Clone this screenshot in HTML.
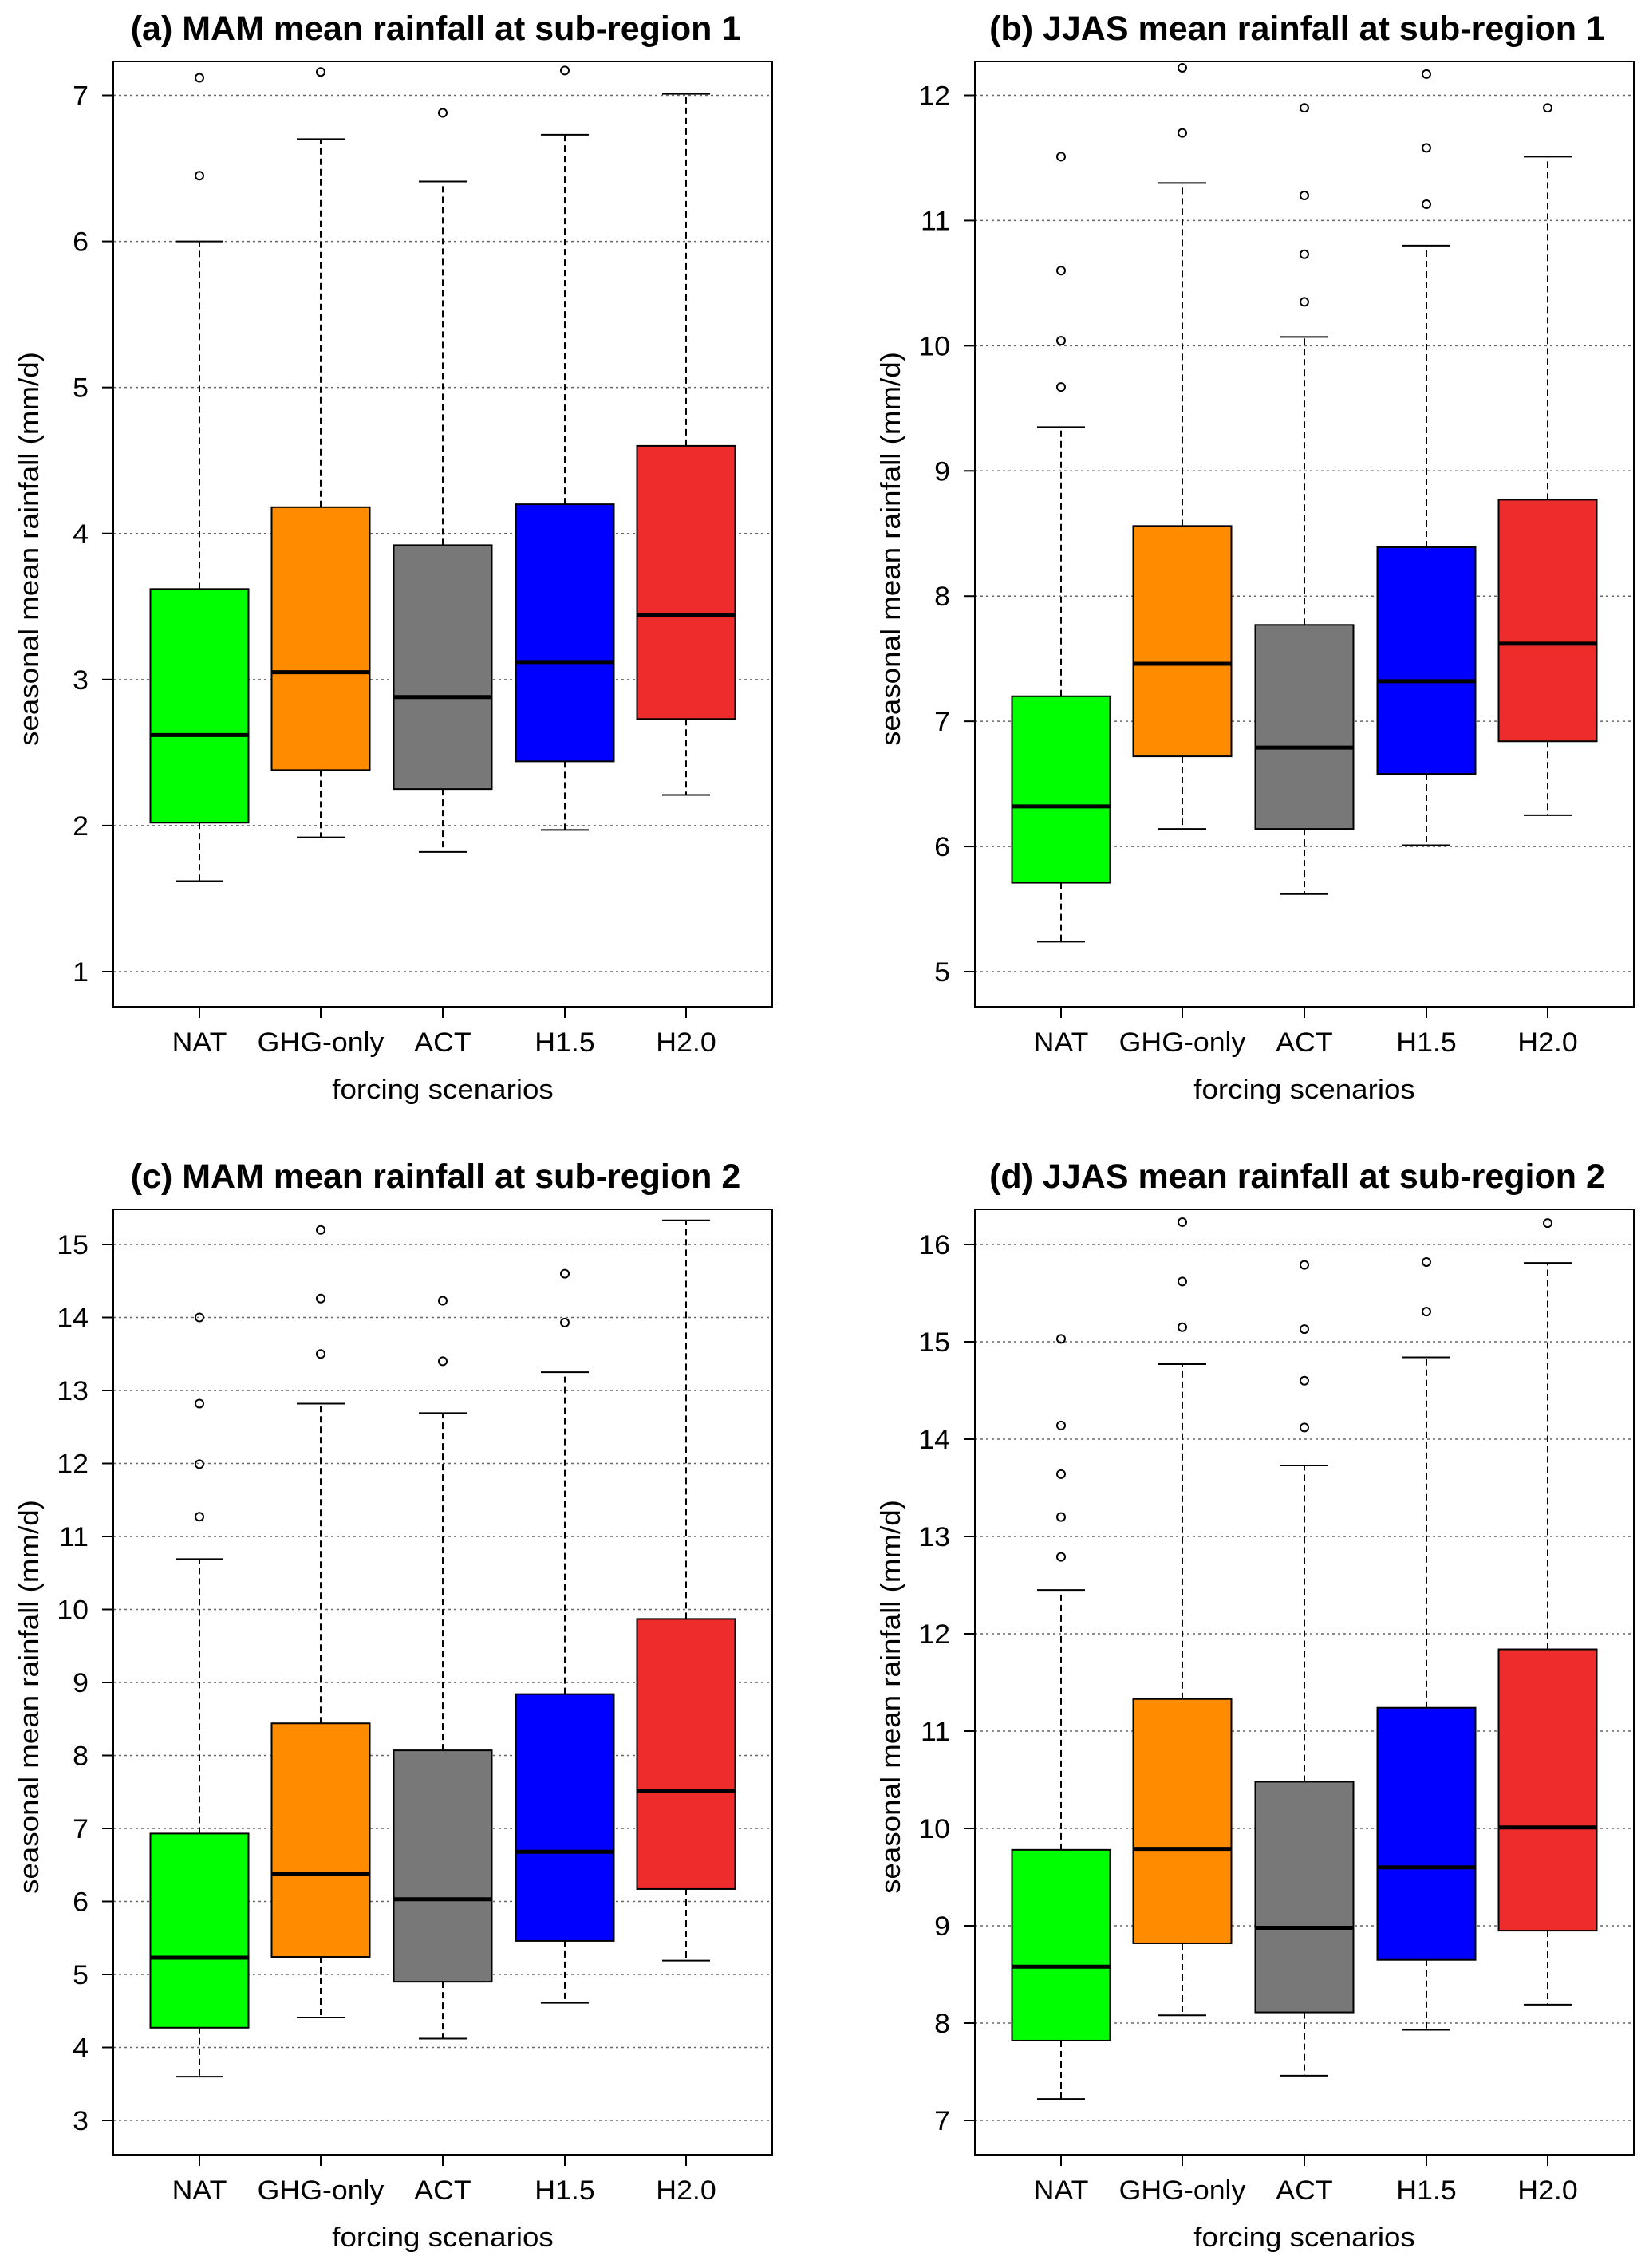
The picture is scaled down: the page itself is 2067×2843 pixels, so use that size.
<!DOCTYPE html>
<html><head><meta charset="utf-8"><style>
html,body{margin:0;padding:0;background:#fff}
svg{display:block}
text{font-family:"Liberation Sans",sans-serif;fill:#000}
</style></head><body>
<svg id="fig" width="2067" height="2843" viewBox="0 0 2067 2843" xmlns="http://www.w3.org/2000/svg"></svg>
<script>
const categories = ["NAT","GHG-only","ACT","H1.5","H2.0"];
const colors = ["#00ff00","#ff8c00","#787878","#0000ff","#ee2c2c"];
const titles = ["(a)  MAM mean rainfall at sub-region 1","(b)  JJAS mean rainfall at sub-region 1","(c)  MAM mean rainfall at sub-region 2","(d)  JJAS mean rainfall at sub-region 2"];
// [lowerWhisker, q1, median, q3, upperWhisker]
const statsA = [[1.62,2.02,2.62,3.62,6.0],[1.92,2.38,3.05,4.18,6.7],[1.82,2.25,2.88,3.92,6.41],[1.97,2.44,3.12,4.2,6.73],[2.21,2.73,3.44,4.6,7.01]];
const outA = [[6.45,7.12],[7.16],[6.88],[7.17],[]];
const statsB = [[5.24,5.71,6.32,7.2,9.35],[6.14,6.72,7.46,8.56,11.3],[5.62,6.14,6.79,7.77,10.07],[6.01,6.58,7.32,8.39,10.8],[6.25,6.84,7.62,8.77,11.51]];
const outB = [[9.67,10.04,10.6,11.51],[11.7,12.22],[10.35,10.73,11.2,11.9],[11.13,11.58,12.17],[11.9]];
const statsC = [[3.6,4.27,5.23,6.93,10.69],[4.41,5.24,6.38,8.44,12.82],[4.12,4.9,6.03,8.07,12.69],[4.61,5.46,6.68,8.84,13.25],[5.19,6.17,7.51,9.87,15.33]];
const outC = [[11.27,11.99,12.82,14.0],[13.5,14.26,15.2],[13.4,14.23],[13.93,14.6],[]];
const statsD = [[7.22,7.82,8.58,9.78,12.45],[8.08,8.82,9.79,11.33,14.77],[7.46,8.11,8.98,10.48,13.73],[7.93,8.65,9.6,11.24,14.84],[8.19,8.95,10.01,11.84,15.81]];
const outD = [[12.79,13.2,13.64,14.14,15.03],[15.15,15.62,16.23],[14.12,14.6,15.13,15.79],[15.31,15.82],[16.22]];
const ticksA = [1,2,3,4,5,6,7];
const ticksB = [5,6,7,8,9,10,11,12];
const ticksC = [3,4,5,6,7,8,9,10,11,12,13,14,15];
const ticksD = [7,8,9,10,11,12,13,14,15,16];

const NS="http://www.w3.org/2000/svg";
const svg=document.getElementById('fig');
function mk(tag,attrs,parent){const e=document.createElementNS(NS,tag);for(const k in attrs)e.setAttribute(k,attrs[k]);parent.appendChild(e);return e;}
function txt(parent,x,y,s,size,anchor,sx,weight,rot){
  const t=mk('text',{'font-size':size,'text-anchor':anchor,'font-weight':weight||'normal',transform:`translate(${x},${y})${rot?' rotate(-90)':''} scale(${sx},1)`},parent);
  t.textContent=s;return t;}

const panels=[
 {ox:0,oy:0,stats:statsA,outs:outA,ticks:ticksA,tv:[7,1],tp:[119.5,1218]},
 {ox:1080,oy:0,stats:statsB,outs:outB,ticks:ticksB,tv:[12,5],tp:[119.5,1218]},
 {ox:0,oy:1439,stats:statsC,outs:outC,ticks:ticksC,tv:[15,3],tp:[121,1219]},
 {ox:1080,oy:1439,stats:statsD,outs:outD,ticks:ticksD,tv:[16,7],tp:[121,1219]}
];
const L=142,R=968,T=77,B=1262;
const xc=[250,402,555,708,860];
panels.forEach((p,pi)=>{
  const g=mk('g',{transform:`translate(${p.ox},${p.oy})`},svg);
  
  
  const y=v=>p.tp[0]+(p.tv[0]-v)*(p.tp[1]-p.tp[0])/(p.tv[0]-p.tv[1]);
  const tt=txt(g,546,50,titles[pi],43,'middle',1,'bold');
  
  
  p.ticks.forEach(v=>{
    const gl=mk('line',{x1:L,x2:R,y1:y(v),y2:y(v),stroke:'#666','stroke-width':1.5,'stroke-dasharray':'3,4'},g);
    
    
    mk('line',{x1:L-14,x2:L,y1:y(v),y2:y(v),stroke:'#000','stroke-width':2},g);
    const tl=txt(g,111,y(v)+12,String(v),34,'end',1.05);
    
    
  });
  p.stats.forEach((s,i)=>{
    const cx=xc[i];
    const bg=mk('g',{},g);
    
    
    mk('line',{x1:cx,x2:cx,y1:y(s[3]),y2:y(s[4]),stroke:'#000','stroke-width':2,'stroke-dasharray':'8,5'},bg);
    mk('line',{x1:cx,x2:cx,y1:y(s[1]),y2:y(s[0]),stroke:'#000','stroke-width':2,'stroke-dasharray':'8,5'},bg);
    mk('line',{x1:cx-30,x2:cx+30,y1:y(s[4]),y2:y(s[4]),stroke:'#000','stroke-width':2},bg);
    mk('line',{x1:cx-30,x2:cx+30,y1:y(s[0]),y2:y(s[0]),stroke:'#000','stroke-width':2},bg);
    mk('rect',{x:cx-61.5,y:y(s[3]),width:123,height:y(s[1])-y(s[3]),fill:colors[i],stroke:'#000','stroke-width':2},bg);
    mk('line',{x1:cx-61.5,x2:cx+61.5,y1:y(s[2]),y2:y(s[2]),stroke:'#000','stroke-width':5},bg);
    p.outs[i].forEach(o=>{
      const c=mk('circle',{cx:cx,cy:y(o),r:5,fill:'none',stroke:'#000','stroke-width':2},bg);
      
      
    });
    mk('line',{x1:cx,x2:cx,y1:B,y2:B+14,stroke:'#000','stroke-width':2},g);
    const xl=txt(g,cx,1318,categories[i],34,'middle',1.05);
    
    
  });
  mk('rect',{x:L,y:T,width:R-L,height:B-T,fill:'none',stroke:'#000','stroke-width':2},g);
  const xt=txt(g,(L+R)/2,1377,'forcing scenarios',34,'middle',1.08);
  
  
  const yt=txt(g,48,688,'seasonal mean rainfall (mm/d)',34,'middle',1.08,'normal',true);
  
  
});
</script>
</body></html>
